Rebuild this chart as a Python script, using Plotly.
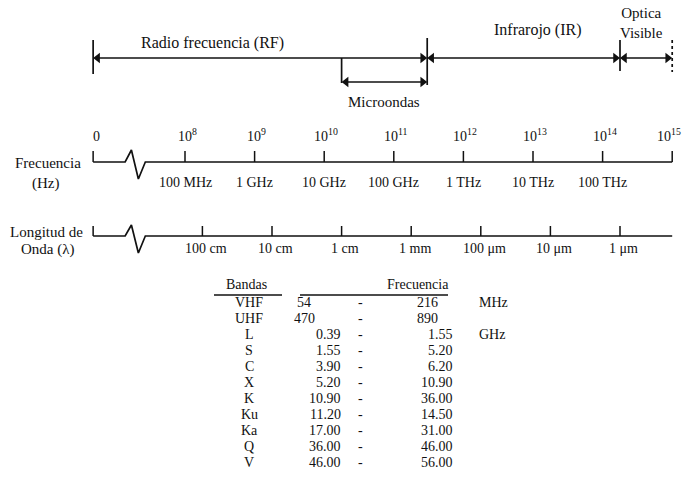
import plotly.graph_objects as go

# ---------------- data ----------------
freq_exponents = [8, 9, 10, 11, 12, 13, 14, 15]
freq_names = ["100 MHz", "1 GHz", "10 GHz", "100 GHz", "1 THz", "10 THz", "100 THz", ""]

wave_positions = [8.25, 9.25, 10.25, 11.25, 12.25, 13.25, 14.25]   # in log10(Hz) units
wave_names = ["100 cm", "10 cm", "1 cm", "1 mm", "100 \u03bcm", "10 \u03bcm", "1 \u03bcm"]

zero_position = 6.68          # where the "0" of the broken axis sits
axis_end = 15.0

region_names = ["Radio frecuencia (RF)", "Infrarojo (IR)", "Optica<br>Visible"]
region_bounds = [6.68, 11.48, 14.25, 15.0]
microwave_bounds = [10.25, 11.48]

band_names = ["VHF", "UHF", "L", "S", "C", "X", "K", "Ku", "Ka", "Q", "V"]
band_low = [54, 470, 0.39, 1.55, 3.90, 5.20, 10.90, 11.20, 17.00, 36.00, 46.00]
band_high = [216, 890, 1.55, 5.20, 6.20, 10.90, 36.00, 14.50, 31.00, 46.00, 56.00]
band_units = ["MHz", "MHz", "GHz", "GHz", "GHz", "GHz", "GHz", "GHz", "GHz", "GHz", "GHz"]

# ---------------- style / layout ----------------
W, H = 685, 496
PX_PER_DEC = 69.6
X0_PX = 185.0
x_range = [8 - X0_PX / PX_PER_DEC, 8 + (W - X0_PX) / PX_PER_DEC]
FONT = "Liberation Serif"
INK = "#111111"
HEAD = 4.5 / PX_PER_DEC     # half arrow-head length in axis units

def paper(px):
    return px / W

fig = go.Figure()
shapes = []
ann = []

def vline(x, y0, y1, width=1.7, dash=None):
    shapes.append(dict(type="line", xref="x", yref="y", x0=x, x1=x, y0=y0, y1=y1,
                       line=dict(color=INK, width=width, dash=dash)))

def text(x, y, s, size=15, xref="x", xanchor="center", yanchor="middle"):
    ann.append(dict(x=x, y=y, xref=xref, yref="y", text=s, showarrow=False,
                    xanchor=xanchor, yanchor=yanchor,
                    font=dict(family=FONT, size=size, color=INK)))

def darrow(x0, x1, y):
    fig.add_trace(go.Scatter(x=[x0 + HEAD, x1 - HEAD], y=[y, y], mode="lines",
                             line=dict(color=INK, width=1.7),
                             hoverinfo="skip", showlegend=False))
    fig.add_trace(go.Scatter(x=[x0 + HEAD, x1 - HEAD], y=[y, y], mode="markers",
                             marker=dict(symbol=["triangle-left", "triangle-right"],
                                         size=9, color=INK, line=dict(width=0)),
                             hoverinfo="skip", showlegend=False))

# ---- top: regions ----
Y_ARROW = 58
rb = region_bounds
vline(rb[0], 40, 74)
vline(rb[1], 38, 85)
vline(rb[2], 40, 71)
vline(rb[3], 40, 72, dash="dot")
for i in range(3):
    darrow(rb[i], rb[i + 1], Y_ARROW)
text((rb[0] + rb[1]) / 2 - 0.69, 43, region_names[0], size=16)
text((rb[1] + rb[2]) / 2 + 0.2, 30, region_names[1], size=16)
ann.append(dict(x=(rb[2] + rb[3]) / 2 - 0.07, y=23, xref="x", yref="y", text=region_names[2],
                showarrow=False, xanchor="center", yanchor="middle", align="center",
                font=dict(family=FONT, size=15, color=INK)))

# microwaves
vline(microwave_bounds[0], Y_ARROW, 83)
darrow(microwave_bounds[0], microwave_bounds[1], 82)
text((microwave_bounds[0] + microwave_bounds[1]) / 2, 102, "Microondas", size=15)

# ---- broken axes ----
brk = [0.46, 0.55, 0.65, 0.75]

def broken_axis(y, up, down, tick_top, positions):
    xs = [zero_position, zero_position + brk[0], zero_position + brk[1],
          zero_position + brk[2], zero_position + brk[3], axis_end]
    ys = [y, y, up, down, y, y]
    fig.add_trace(go.Scatter(x=xs, y=ys, mode="lines", line=dict(color=INK, width=1.7),
                             hoverinfo="skip", showlegend=False))
    tx, ty = [zero_position, zero_position, None], [tick_top, y, None]
    for p in positions:
        tx += [p, p, None]
        ty += [tick_top, y, None]
    fig.add_trace(go.Scatter(x=tx, y=ty, mode="lines", line=dict(color=INK, width=1.5),
                             hoverinfo="skip", showlegend=False))

Y_FREQ = 162
broken_axis(Y_FREQ, 150, 179, 151, freq_exponents)
text(zero_position + 0.05, 146, "0", size=14, yanchor="bottom")
for e, name in zip(freq_exponents, freq_names):
    text(e + (0.03 if e < 15 else -0.05), 146, "10<sup>%d</sup>" % e, size=14, yanchor="bottom")
    if name:
        text(e, 182, name, size=14)
text(paper(48), Y_FREQ + 1, "Frecuencia", size=15, xref="paper")
text(paper(45), 183, "(Hz)", size=15, xref="paper")

Y_WAVE = 236
broken_axis(Y_WAVE, 225, 253, 226, wave_positions)
for p, name in zip(wave_positions, wave_names):
    text(p + 0.05, 248, name, size=14)
text(paper(46), 232, "Longitud de", size=15, xref="paper")
text(paper(48), 249, "Onda (\u03bb)", size=15, xref="paper")

# ---- table ----
Y_HEAD = 284
ROW0, ROW_DY = 302, 16.0
text(paper(246), Y_HEAD, "Bandas", size=14, xref="paper")
text(paper(418), Y_HEAD, "Frecuencia", size=14, xref="paper")
shapes.append(dict(type="line", xref="paper", yref="y", x0=paper(214), x1=paper(282),
                   y0=295, y1=295, line=dict(color=INK, width=1.5)))
shapes.append(dict(type="line", xref="paper", yref="y", x0=paper(300), x1=paper(448),
                   y0=295, y1=295, line=dict(color=INK, width=1.5)))
prev_unit = None
for i, (b, lo, hi, u) in enumerate(zip(band_names, band_low, band_high, band_units)):
    y = ROW0 + i * ROW_DY
    text(paper(249), y, b, size=14, xref="paper")
    if u == "MHz":
        text(paper(304), y, "%d" % lo, size=14, xref="paper")
        text(paper(440), y, "%d" % hi, size=14, xref="paper", xanchor="right")
    else:
        text(paper(343), y, "%.2f" % lo, size=14, xref="paper", xanchor="right")
        text(paper(455), y, "%.2f" % hi, size=14, xref="paper", xanchor="right")
    text(paper(360), y, "-", size=14, xref="paper")
    if u != prev_unit:
        text(paper(477), y, u, size=14, xref="paper", xanchor="left")
    prev_unit = u

fig.update_layout(
    width=W, height=H, autosize=False,
    margin=dict(l=0, r=0, t=0, b=0),
    paper_bgcolor="white", plot_bgcolor="white",
    xaxis=dict(range=x_range, visible=False, fixedrange=True),
    yaxis=dict(range=[H, 0], visible=False, fixedrange=True),
    shapes=shapes, annotations=ann, showlegend=False,
)
fig.write_html("out.html", config={"displayModeBar": False},
               post_script="document.body.style.margin='0';document.body.style.overflow='hidden';")
